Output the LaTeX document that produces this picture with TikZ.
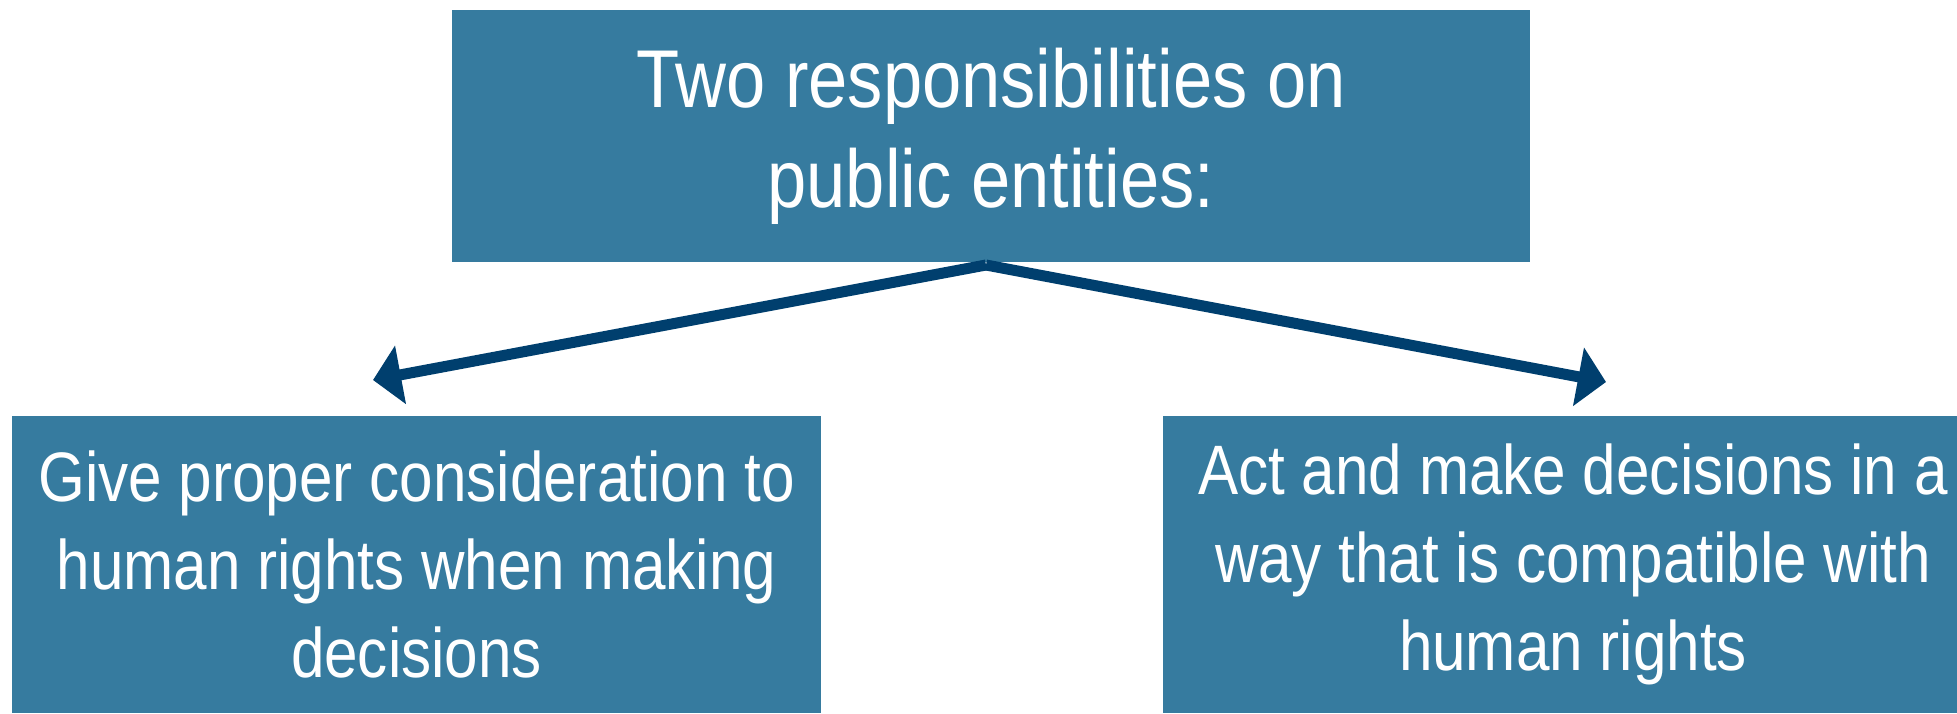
\documentclass[tikz,border=0pt]{standalone}
\usepackage{fontspec}
\setmainfont{Liberation Sans}[FakeStretch=0.86]
\usetikzlibrary{arrows.meta}
\definecolor{boxblue}{HTML}{367B9F}
\definecolor{arrowblue}{HTML}{003F6E}
\tikzset{
  box/.style={fill=boxblue, text=white, inner sep=0pt, align=center},
  headbox/.style={box, minimum width=539pt, minimum height=126pt,
    font=\fontsize{41}{50}\selectfont},
  subbox/.style={box, minimum height=148.5pt,
    font=\fontsize{35}{44}\selectfont},
  arr/.style={draw=arrowblue, line width=5.5pt,
    -{Triangle[length=14pt,width=29pt]}},
}
\begin{document}
\begin{tikzpicture}[x=0.5pt, y=-0.5pt]
        \useasboundingbox (0,0) rectangle (1957,713);
        \clip (0,0) rectangle (1957,713);
        \node[headbox] (A0_0) at (991, 136) {Two responsibilities on\\public entities:};
        \node[subbox, minimum width=404.5pt] (A1_0) at (416.5, 564.5)
          {Give proper consideration to\\human rights when making\\decisions};
        \node[subbox, minimum width=410pt] (A1_1) at (1573, 564.5)
          {Act and make decisions in a\\way that is compatible with\\human rights};
        \coordinate (C0_0) at (986, 265);
        \coordinate (C1_0) at (373, 380);
        \coordinate (C1_1) at (1606, 382);
        \path (C0_0) edge [arr] (C1_0);
        \path (C0_0) edge [arr] (C1_1);
      \end{tikzpicture}
\end{document}
